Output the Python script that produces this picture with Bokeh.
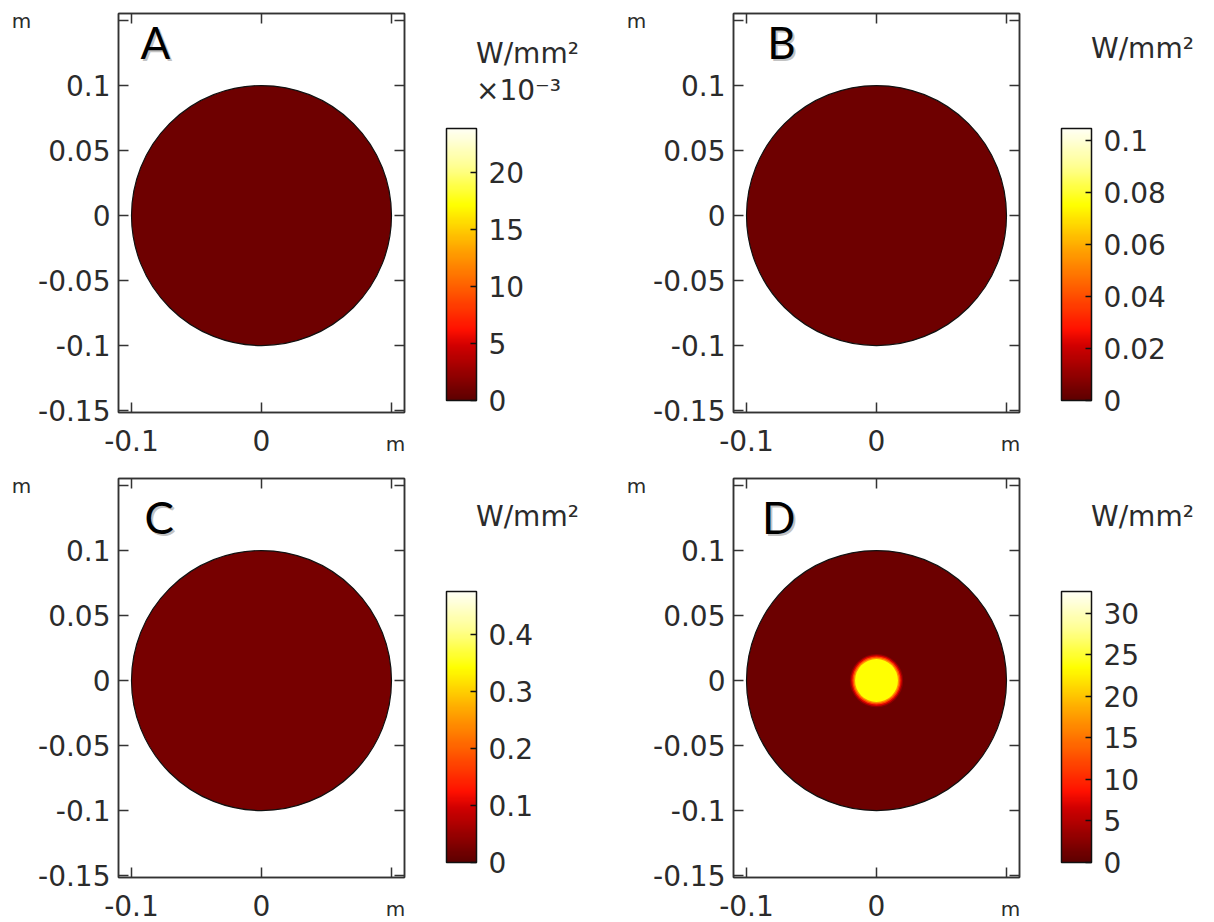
from bokeh.plotting import figure
from bokeh.layouts import column, row
from bokeh.models import (LinearColorMapper, ColorBar, FixedTicker, LinearAxis,
                          Range1d, Label, ColumnDataSource)
from bokeh.transform import linear_cmap
from bokeh.embed import file_html
from bokeh.resources import INLINE

# ---------------- data ----------------
panel_letters = ["A", "B", "C", "D"]
disk_radius = 0.1                        # m
disk_value = [0.8, 0.0035, 0.024, 1.0]   # estimated background level (colorbar units)
cbar_max = [23.9, 0.1045, 0.475, 32.6]
cbar_ticks = [[0, 5, 10, 15, 20],
              [0, 0.02, 0.04, 0.06, 0.08, 0.1],
              [0, 0.1, 0.2, 0.3, 0.4],
              [0, 5, 10, 15, 20, 25, 30]]
cbar_labels = [["0", "5", "10", "15", "20"],
               ["0", "0.02", "0.04", "0.06", "0.08", "0.1"],
               ["0", "0.1", "0.2", "0.3", "0.4"],
               ["0", "5", "10", "15", "20", "25", "30"]]
cbar_title = ["W/mm²\n×10⁻³", "W/mm²", "W/mm²", "W/mm²"]
# hot spot of panel D (concentric rings, outer to inner)
spot_r = [0.0205, 0.0195, 0.0185, 0.0175, 0.0165]
spot_val = [3, 7, 12, 17, 23.5]

xticks = [-0.1, 0, 0.1]
xtick_labels = ["-0.1", "0", ""]
yticks = [-0.15, -0.1, -0.05, 0, 0.05, 0.1, 0.15]
ytick_labels = ["-0.15", "-0.1", "-0.05", "0", "0.05", "0.1", ""]
unit_label = "m"

# ---------------- style ----------------
stops = [(0.00, (0x5c, 0x00, 0x00)), (0.20, (0xd0, 0x00, 0x00)),
         (0.26, (0xff, 0x10, 0x00)), (0.42, (0xff, 0x60, 0x00)),
         (0.55, (0xff, 0xa0, 0x00)), (0.65, (0xff, 0xd8, 0x00)),
         (0.72, (0xff, 0xff, 0x00)), (0.86, (0xff, 0xff, 0x90)),
         (1.00, (0xff, 0xff, 0xf5))]


def make_palette(n=256):
    pal = []
    for i in range(n):
        t = i / (n - 1)
        for (t0, c0), (t1, c1) in zip(stops[:-1], stops[1:]):
            if t0 <= t <= t1:
                f = (t - t0) / (t1 - t0) if t1 > t0 else 0
                c = [int(round(a + (b - a) * f)) for a, b in zip(c0, c1)]
                pal.append("#%02x%02x%02x" % tuple(c))
                break
    return pal


PALETTE = make_palette()
TXT = "#2b2b2b"
FONT = "DejaVu Sans"
FS = "28px"

letter_pos = [(-0.093, 0.1335), (-0.084, 0.1335), (-0.090, 0.1255), (-0.088, 0.1255)]
title_y = [0.1377, 0.1410, 0.1392, 0.1392]


def make_panel(i, top_row, left_col):
    mapper = LinearColorMapper(palette=PALETTE, low=0, high=cbar_max[i])
    p = figure(frame_width=286, frame_height=399,
               x_range=Range1d(-0.11, 0.11), y_range=Range1d(-0.1515, 0.1554),
               min_border_left=118, min_border_right=(211 if left_col else 190),
               min_border_top=(13 if top_row else 5),
               min_border_bottom=(61 if top_row else 45),
               toolbar_location=None, output_backend="svg",
               x_axis_location=None, y_axis_location=None,
               background_fill_color="white", border_fill_color="white")
    p.grid.visible = False
    p.outline_line_color = "#333333"
    p.outline_line_width = 1.5

    def style(ax, labels):
        ax.major_tick_in = 10
        ax.major_tick_out = 0
        ax.minor_tick_line_color = None
        ax.axis_line_color = "#333333"
        ax.axis_line_width = 1.5
        ax.major_tick_line_color = "#333333"
        ax.major_tick_line_width = 1.5
        if labels:
            ax.major_label_text_font = FONT
            ax.major_label_text_font_size = FS
            ax.major_label_text_color = TXT
        else:
            ax.major_label_text_color = None
            ax.major_label_text_font_size = "1px"
            ax.major_label_standoff = 0

    bx = LinearAxis(ticker=FixedTicker(ticks=xticks),
                    major_label_overrides=dict(zip(xticks, xtick_labels)))
    style(bx, True)
    bx.major_label_standoff = 17
    p.add_layout(bx, "below")
    ly = LinearAxis(ticker=FixedTicker(ticks=yticks),
                    major_label_overrides=dict(zip(yticks, ytick_labels)))
    style(ly, True)
    ly.major_label_standoff = 8
    p.add_layout(ly, "left")
    ax_top = LinearAxis(ticker=FixedTicker(ticks=xticks))
    style(ax_top, False)
    p.add_layout(ax_top, "above")
    ax_right = LinearAxis(ticker=FixedTicker(ticks=yticks))
    style(ax_right, False)
    p.add_layout(ax_right, "right")

    # disk
    src = ColumnDataSource(dict(x=[0], y=[0], r=[disk_radius], v=[disk_value[i]]))
    p.circle(x="x", y="y", radius="r", source=src,
             fill_color=linear_cmap("v", PALETTE, 0, cbar_max[i]),
             line_color="#111111", line_width=1.2)
    if i == 3:
        ssrc = ColumnDataSource(dict(x=[0] * len(spot_r), y=[0] * len(spot_r),
                                     r=spot_r, v=spot_val))
        p.circle(x="x", y="y", radius="r", source=ssrc,
                 fill_color=linear_cmap("v", PALETTE, 0, cbar_max[i]),
                 line_color=None)

    # colorbar
    cb = ColorBar(color_mapper=mapper, ticker=FixedTicker(ticks=cbar_ticks[i]),
                  major_label_overrides=dict(zip(cbar_ticks[i], cbar_labels[i])),
                  location=(328, 12 if top_row else 15), width=30,
                  height=272 if top_row else 271, padding=0, margin=0,
                  bar_line_color="#111111", bar_line_width=1.5,
                  major_tick_in=6, major_tick_out=0,
                  major_tick_line_color="#111111", major_tick_line_width=1.5,
                  minor_tick_line_color=None,
                  major_label_text_font=FONT, major_label_text_font_size=FS,
                  major_label_text_color=TXT, label_standoff=12,
                  background_fill_alpha=0, border_line_color=None)
    p.add_layout(cb, "center")

    # colorbar title (in right margin so it is not clipped)
    p.add_layout(Label(x=0.165, y=title_y[i], text=cbar_title[i], text_font=FONT,
                       text_font_size=FS, text_color=TXT, text_line_height=1.15,
                       text_baseline="top", text_align="left"), "right")
    # axis unit labels
    p.add_layout(Label(x=-0.1846, y=0.159, text=unit_label, text_font=FONT,
                       text_font_size="20px", text_color=TXT,
                       text_baseline="top", text_align="center"), "left")
    p.add_layout(Label(x=0.103, y=-0.1664, text=unit_label, text_font=FONT,
                       text_font_size="20px", text_color=TXT,
                       text_baseline="top", text_align="center"), "right")
    # panel letter with shadow
    lx, ly_ = letter_pos[i]
    p.add_layout(Label(x=lx, y=ly_, x_offset=2, y_offset=-2, text=panel_letters[i],
                       text_font="Lato", text_font_size="44px", text_color="#9a9a9a",
                       text_alpha=0.6, text_baseline="alphabetic"))
    p.add_layout(Label(x=lx, y=ly_, text=panel_letters[i],
                       text_font="Lato", text_font_size="44px", text_color="#000000",
                       text_baseline="alphabetic"))
    return p


pA = make_panel(0, True, True)
pB = make_panel(1, True, False)
pC = make_panel(2, False, True)
pD = make_panel(3, False, False)

layout = column(row(pA, pB), row(pC, pD))
open("out.html", "w").write(file_html(layout, INLINE))
